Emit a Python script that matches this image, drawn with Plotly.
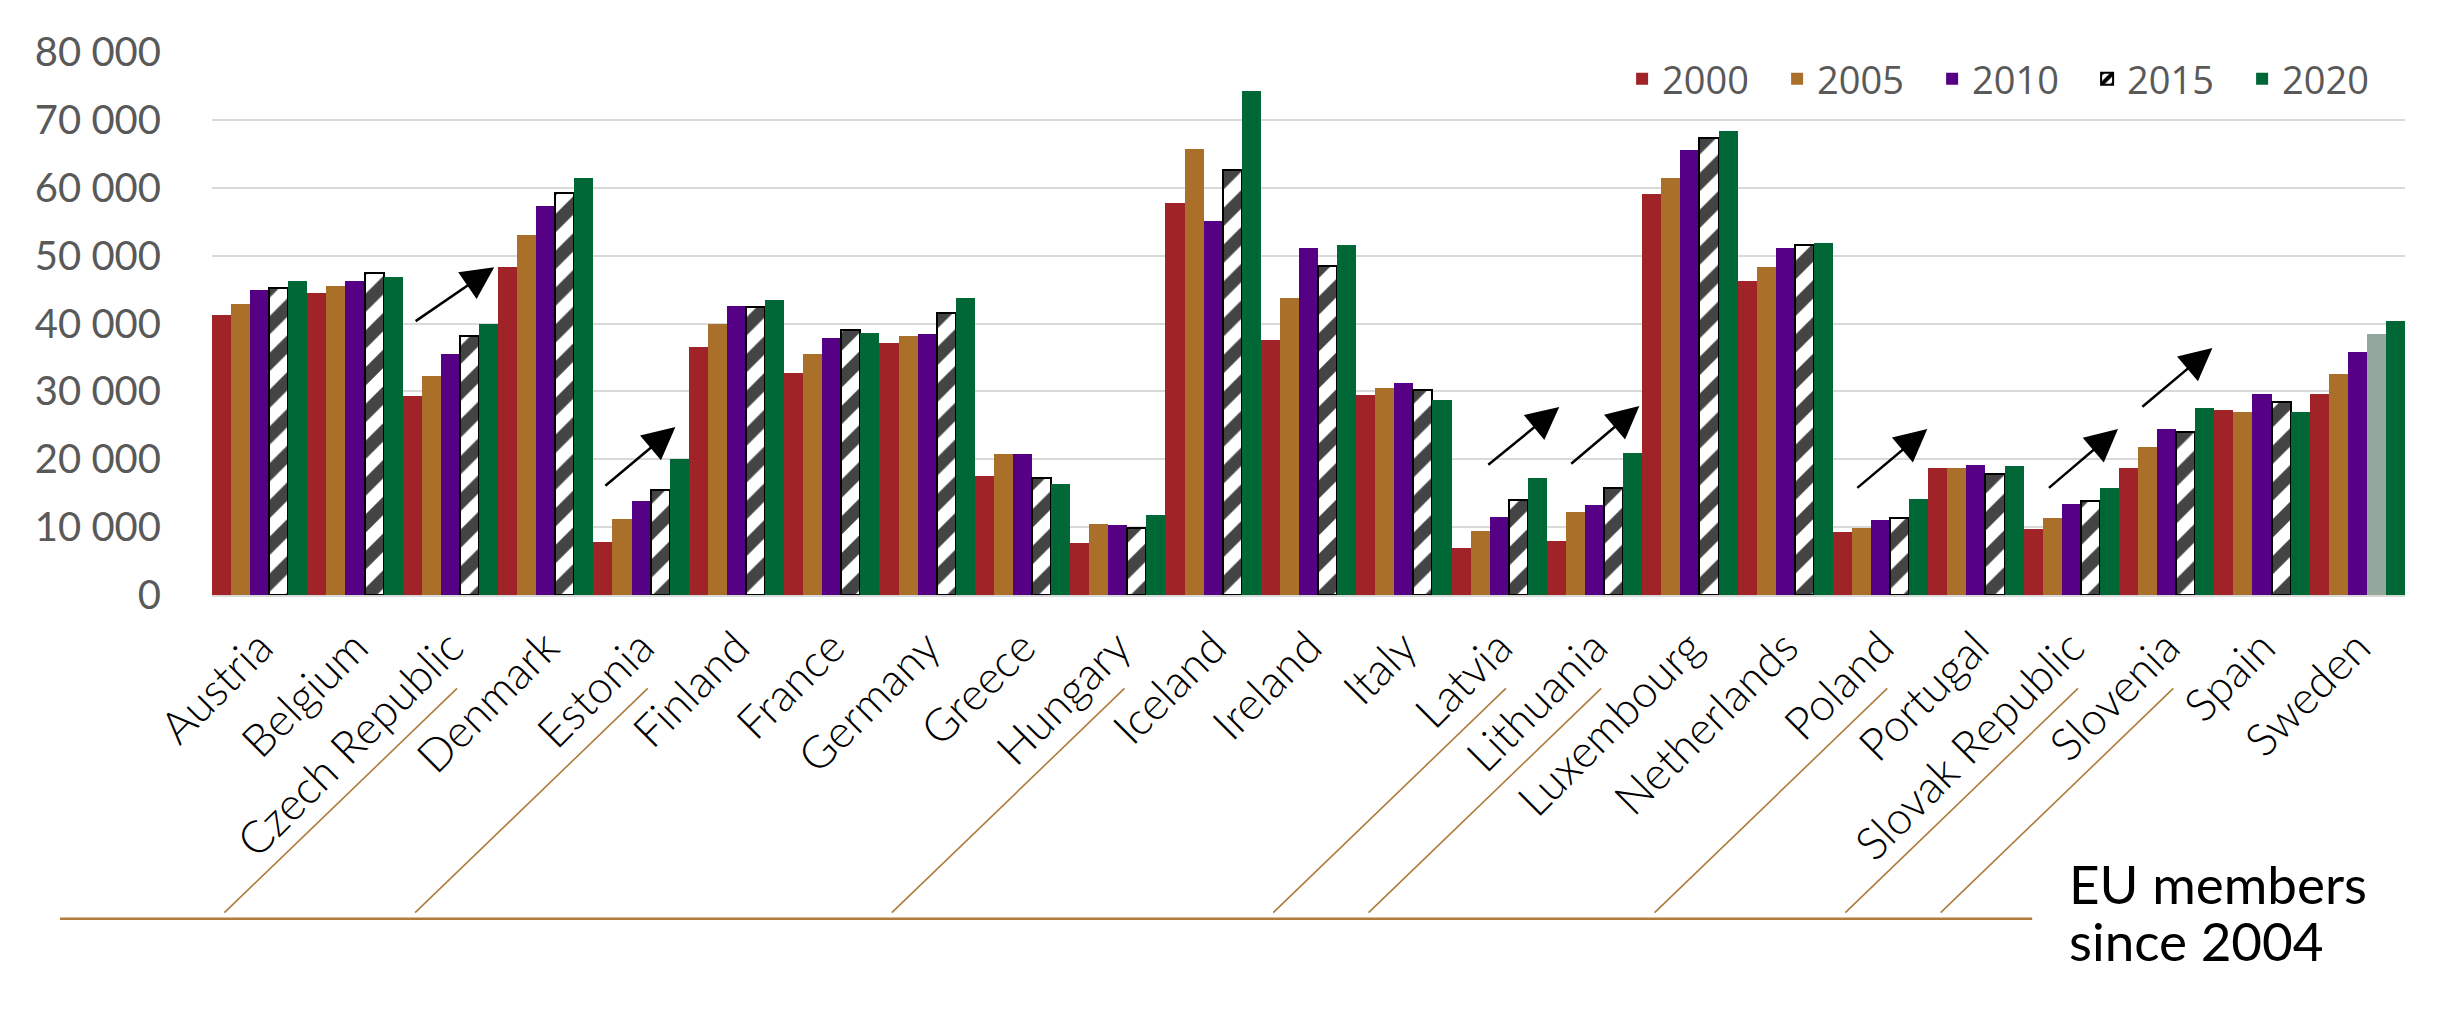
import plotly.graph_objects as go

countries = ["Austria", "Belgium", "Czech Republic", "Denmark", "Estonia", "Finland", "France",
             "Germany", "Greece", "Hungary", "Iceland", "Ireland", "Italy", "Latvia", "Lithuania",
             "Luxembourg", "Netherlands", "Poland", "Portugal", "Slovak Republic", "Slovenia",
             "Spain", "Sweden"]

years = ["2000", "2005", "2010", "2015", "2020"]

v2000 = [41300, 44500, 29300, 48300, 7800, 36500, 32700, 37200, 17500, 7600, 57800, 37600,
         29500, 6900, 7900, 59150, 46200, 9300, 18700, 9700, 18700, 27200, 29600]
v2005 = [42900, 45500, 32300, 53000, 11250, 40000, 35500, 38100, 20800, 10500, 65700, 43800,
         30500, 9500, 12300, 61400, 48300, 9800, 18700, 11300, 21800, 27000, 32500]
v2010 = [45000, 46300, 35500, 57300, 13900, 42600, 37900, 38500, 20800, 10300, 55100, 51100,
         31300, 11500, 13200, 65600, 51100, 11000, 19100, 13400, 24400, 29600, 35800]
v2015 = [45200, 47500, 38100, 59300, 15500, 42500, 39000, 41600, 17200, 9800, 62600, 48500,
         30200, 14000, 15700, 67400, 51600, 11300, 17800, 13900, 24000, 28500, 38500]
v2020 = [46200, 46800, 40000, 61500, 20100, 43400, 38600, 43800, 16400, 11800, 74300, 51600,
         28800, 17300, 20900, 68300, 51800, 14200, 19000, 15700, 27600, 27000, 40400]

# countries that joined the EU in 2004 (marked with arrows and leader lines)
eu2004 = ["Czech Republic", "Estonia", "Hungary", "Latvia", "Lithuania", "Poland",
          "Slovak Republic", "Slovenia"]

# arrows: (tail x, tail y, head x, head y) in category-index / value units
arrow_tails = [(1.62, 40200), (3.61, 15900), (12.87, 19000), (13.74, 19150),
               (16.74, 15600), (18.75, 15600), (19.73, 27550)]
arrow_heads = [(2.46, 48300), (4.36, 24750), (13.63, 27700), (14.47, 27840),
               (17.49, 24450), (19.49, 24450), (20.48, 36400)]

C2000 = "#A02327"
C2005 = "#AA7029"
C2010 = "#560086"
C2020 = "#006837"
CSWE15 = "#93A79D"
BROWN = "#B07B3B"

fig = go.Figure()

fig.add_trace(go.Bar(x=countries, y=v2000, name="2000", marker=dict(color=C2000, line=dict(width=0))))
fig.add_trace(go.Bar(x=countries, y=v2005, name="2005", marker=dict(color=C2005, line=dict(width=0))))
fig.add_trace(go.Bar(x=countries, y=v2010, name="2010", marker=dict(color=C2010, line=dict(width=0))))

n = len(countries)
col15 = ["white" if c != "Sweden" else CSWE15 for c in countries]
shape15 = ["/" if c != "Sweden" else "" for c in countries]
lw15 = [2 if c != "Sweden" else 0 for c in countries]
fig.add_trace(go.Bar(
    x=countries, y=v2015, name="2015",
    marker=dict(color=col15, line=dict(color="black", width=lw15),
                pattern=dict(shape=shape15, fgcolor="black", fgopacity=1, size=26, solidity=0.5)),
))
fig.add_trace(go.Bar(x=countries, y=v2020, name="2020", marker=dict(color=C2020, line=dict(width=0))))

shapes = []
# horizontal base line for the EU-2004 leader lines
shapes.append(dict(type="line", xref="paper", yref="paper", x0=-0.0693, x1=0.830,
                   y0=-0.596, y1=-0.596, line=dict(color=BROWN, width=2.5)))
for c in eu2004:
    i = countries.index(c)
    shapes.append(dict(type="line", xref="x", yref="paper",
                       x0=i + 0.07, y0=-0.172, x1=i + 0.07 - 2.44, y1=-0.585,
                       line=dict(color=BROWN, width=1.6)))

annotations = []
for (tx, ty), (hx, hy) in zip(arrow_tails, arrow_heads):
    annotations.append(dict(x=hx, y=hy, ax=tx, ay=ty, xref="x", yref="y", axref="x", ayref="y",
                            text="", showarrow=True, arrowhead=2, arrowsize=2.6, arrowwidth=2.5,
                            arrowcolor="black"))
annotations.append(dict(xref="paper", yref="paper", x=0.846, y=-0.532, xanchor="left", yanchor="middle",
                        text="EU members", showarrow=False,
                        font=dict(family="Lato", size=53, color="black")))
annotations.append(dict(xref="paper", yref="paper", x=0.846, y=-0.636, xanchor="left", yanchor="middle",
                        text="since 2004", showarrow=False,
                        font=dict(family="Lato", size=53, color="black")))

fig.update_layout(
    width=2456, height=1012,
    margin=dict(l=204, r=59, t=44, b=425),
    paper_bgcolor="white", plot_bgcolor="white",
    barmode="group", bargap=0, bargroupgap=0,
    separators=". ",
    showlegend=True,
    legend=dict(orientation="h", x=0.643, xanchor="left", y=0.95, yanchor="middle",
                bgcolor="rgba(0,0,0,0)", font=dict(family="Open Sans", size=38, color="#595959"),
                entrywidth=110, entrywidthmode="pixels", traceorder="normal"),
    xaxis=dict(type="category", range=[-0.5, n - 0.5], tickangle=-45,
               tickfont=dict(family="Lato", size=45, color="black", weight=300),
               showline=True, linecolor="#D9D9D9", linewidth=2, ticks="", showgrid=False,
               ticklabelstandoff=6),
    yaxis=dict(range=[0, 80000], dtick=10000, tickformat=",d",
               tickfont=dict(family="Lato", size=40, color="#595959"),
               showgrid=True, gridcolor="#D9D9D9", gridwidth=2, zeroline=False,
               showline=False, ticks="", ticklabelstandoff=50),
    shapes=shapes,
    annotations=annotations,
)

fig.write_html("out.html")
